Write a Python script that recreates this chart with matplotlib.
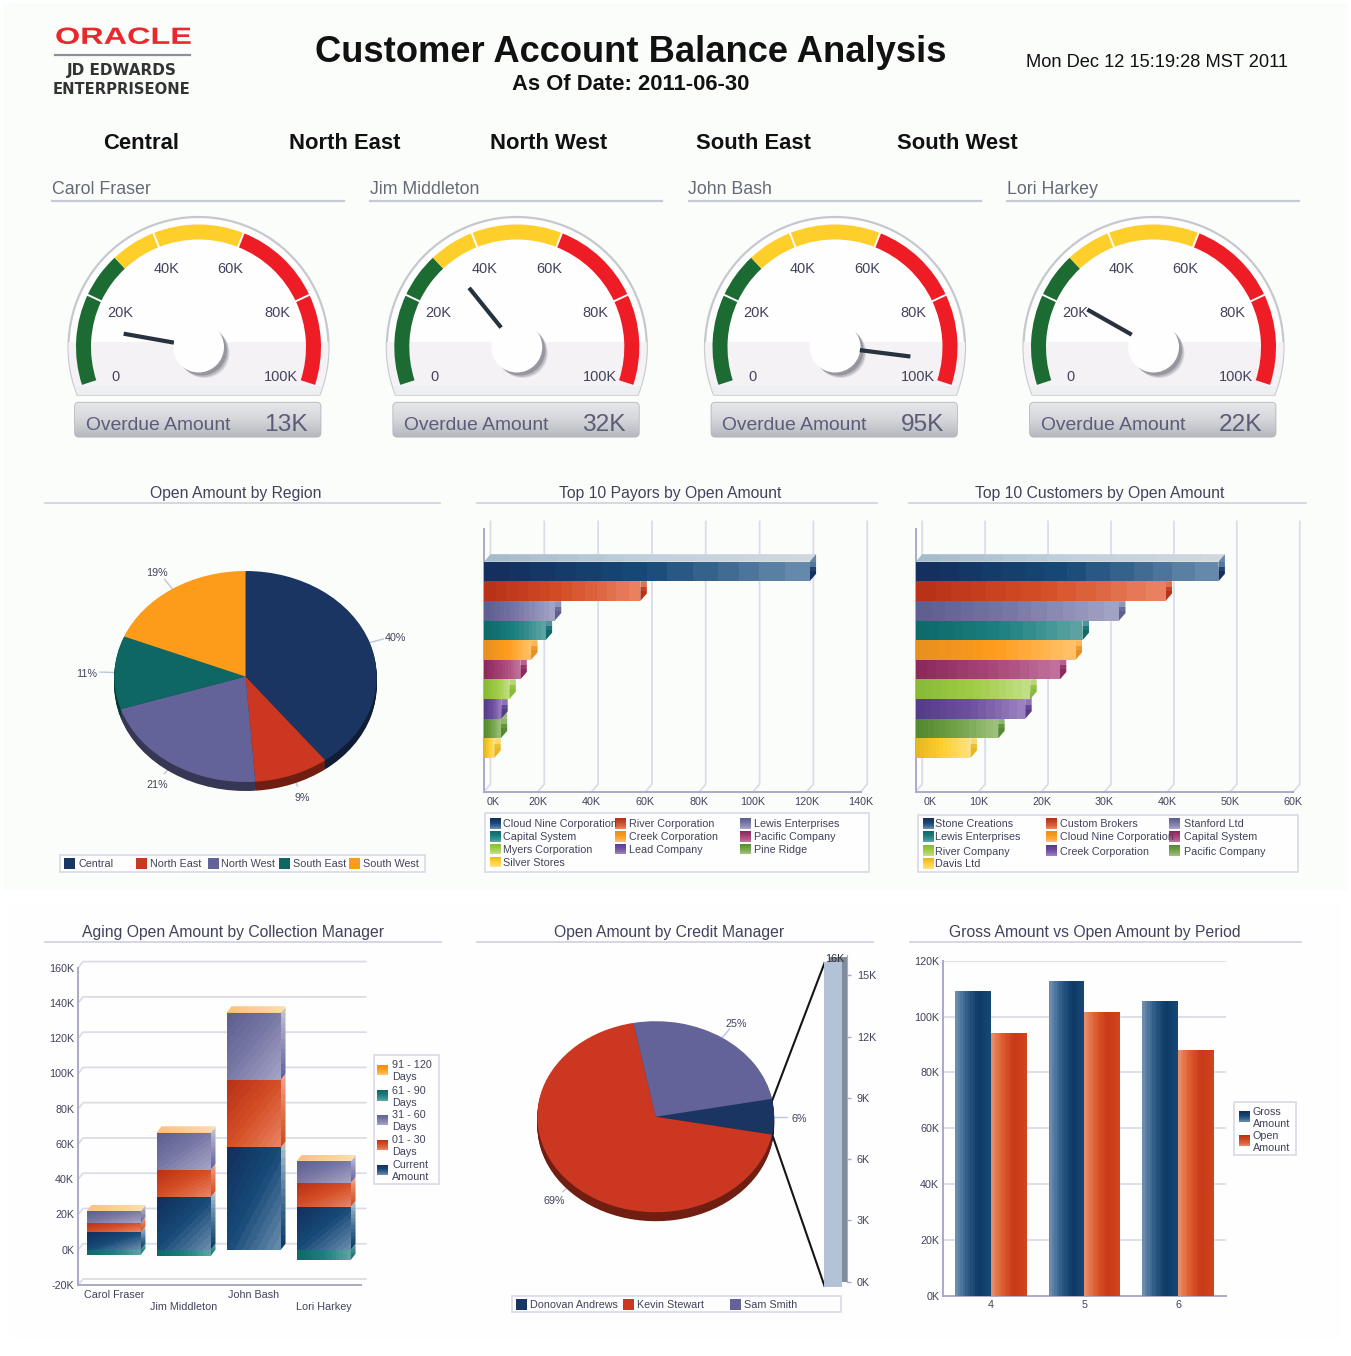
import numpy as np
import matplotlib
matplotlib.use('Agg')
import matplotlib.pyplot as plt
from matplotlib.colors import LinearSegmentedColormap
from matplotlib.patches import Polygon, Rectangle, Wedge, Circle, FancyBboxPatch
from matplotlib.patheffects import AbstractPathEffect
from matplotlib.transforms import Affine2D

# gauges (values in K)
managers = ['Carol Fraser', 'Jim Middleton', 'John Bash', 'Lori Harkey']
overdue = [13, 32, 95, 22]
gauge_ticks = [0, 20, 40, 60, 80, 100]
gauge_bands = [0, 20, 30, 40, 60, 80, 100]
region_heads = ['Central', 'North East', 'North West', 'South East', 'South West']

# open amount by region, percent
region_share = [39.6, 9.2, 21.2, 11.2, 18.8]

# top 10 lists, K
payors = ['Cloud Nine Corporation', 'River Corporation', 'Lewis Enterprises', 'Capital System',
          'Creek Corporation', 'Pacific Company', 'Myers Corporation', 'Lead Company',
          'Pine Ridge', 'Silver Stores']
payor_open = [121, 58.1, 26.3, 22.9, 17.5, 13.5, 9.4, 6.4, 6.2, 3.8]
payor_ticks = [0, 20, 40, 60, 80, 100, 120, 140]
customers = ['Stone Creations', 'Custom Brokers', 'Stanford Ltd', 'Lewis Enterprises',
             'Cloud Nine Corporation', 'Capital System', 'River Company', 'Creek Corporation',
             'Pacific Company', 'Davis Ltd']
customer_open = [48.1, 39.7, 32.3, 26.5, 25.4, 22.9, 18.2, 17.4, 13.1, 8.7]
customer_ticks = [0, 10, 20, 30, 40, 50, 60]

# aging by collection manager, K
aging_current = [9.8, 29.9, 58.0, 24.4]
aging_01_30 = [5.3, 15.5, 38.4, 13.6]
aging_31_60 = [6.6, 20.8, 37.8, 12.1]
aging_61_90 = [-2.8, -3.4, 0, -5.7]
aging_91_120 = [0.3, 0.4, 0.5, 0.3]
aging_ticks = [-20, 0, 20, 40, 60, 80, 100, 120, 140, 160]
aging_names = ['91 - 120\nDays', '61 - 90\nDays', '31 - 60\nDays', '01 - 30\nDays', 'Current\nAmount']

# credit manager
credit_names = ['Donovan Andrews', 'Kevin Stewart', 'Sam Smith']
credit_share = [6, 69, 25]
credit_column = 15.9
credit_ticks = [0, 3, 6, 9, 12, 15]

# gross vs open
periods = ['4', '5', '6']
gross_amount = [109.1, 112.7, 105.7]
open_amount = [94.2, 101.8, 88.0]
period_ticks = [0, 20, 40, 60, 80, 100, 120]

W, H = 1351, 1356
INK = '#42425c'
LINE = '#dcdce8'
AXIS = '#a9a9c9'
plt.rcParams['font.family'] = 'Liberation Sans'

pie_colors = ['#1b3562', '#cb3720', '#63639a', '#0e6763', '#fd9b1a']
credit_colors = ['#1b3562', '#cb3720', '#63639a']
stops = [
    ['#13305e', '#174a78', '#6589ab'],
    ['#b83218', '#d44e25', '#e98060'],
    ['#5f5f90', '#7a7aa8', '#a2a2c4'],
    ['#0f6a6a', '#1b8080', '#5ca2a2'],
    ['#e89020', '#ff9c1c', '#ffc068'],
    ['#8c2a5e', '#a84478', '#c0709a'],
    ['#88bb38', '#a0cc44', '#c2de84'],
    ['#583c8c', '#6e50a0', '#9a80c0'],
    ['#558a30', '#72a248', '#9cc07c'],
    ['#e8b820', '#ffd030', '#ffe080'],
]

fig = plt.figure(figsize=(W / 100, H / 100), dpi=100, facecolor='white')
page = fig.add_axes([0, 0, 1, 1], zorder=0)
page.set_xlim(0, W)
page.set_ylim(H, 0)
page.axis('off')
page.add_patch(Rectangle((3, 3), W - 6, 887, fc='#fbfdfb', ec='none', zorder=0))
page.add_patch(Rectangle((10, 902), W - 20, 438, fc='#fdfefd', ec='none', zorder=0))


def px_axes(l, t, r, b):
    ax = fig.add_axes([l / W, 1 - b / H, (r - l) / W, (b - t) / H], zorder=1)
    ax.patch.set_visible(False)
    return ax


def px(size):
    return size * 0.72


def label(x, y, s, size=10.8, color=INK, ha='left', **kw):
    return page.text(x, y + 0.1 * size, s, fontsize=px(size), color=color, ha=ha, va='center', **kw)


# polygon filled with a stepped gradient, like the banded fills of the original
def shade(ax, xs, ys, colors, kind='h', z=3, n=14):
    poly = Polygon(np.column_stack([xs, ys]), closed=True, fc='none', ec='none', zorder=z)
    ax.add_patch(poly)
    cm = LinearSegmentedColormap.from_list('s', colors, N=n)
    g = np.linspace(0, 1, 64)
    if kind == 'h':
        a = g[None, :]
    elif kind == 'v':
        a = g[:, None]
    else:
        a = (g[None, :] + (1 - g)[:, None]) / 2
    im = ax.imshow(a, extent=(min(xs), max(xs), min(ys), max(ys)), origin='lower', aspect='auto',
                   cmap=cm, vmin=0, vmax=1, interpolation='nearest', zorder=z)
    im.set_clip_path(poly)


def section(x0, x1, y, title, cx=None):
    label((x0 + x1) / 2 if cx is None else cx, y, title, size=15.7, ha='center')
    page.plot([x0, x1], [y + 10.5, y + 10.5], color='#d3d3e2', lw=1.3)


def legend_box(l, t, r, b):
    page.add_patch(Rectangle((l, t), r - l, b - t, fc='#fdfefd', ec='#dcdcea', lw=1.3, zorder=1))


def legend_item(x, y, tx, name, colors):
    if isinstance(colors, str):
        page.add_patch(Rectangle((x, y - 5.5), 11, 11, fc=colors, zorder=2))
    else:
        shade(page, [x, x + 11, x + 11, x], [y - 5.5, y - 5.5, y + 5.5, y + 5.5], colors, 'v', z=2)
    label(tx, y, name, linespacing=1.2)


def ink_ticks(ax):
    ax.tick_params(length=0, labelsize=px(10.8), labelcolor=INK)
    for s in ax.spines.values():
        s.set_visible(False)
    for s in ['left', 'bottom']:
        ax.spines[s].set_visible(True)
        ax.spines[s].set_color(AXIS)
        ax.spines[s].set_linewidth(1.4)


# ---- header
label(315, 48.5, 'Customer Account Balance Analysis', size=36.4, color='#111111', weight='bold')
label(630.5, 82, 'As Of Date: 2011-06-30', size=22, color='#111111', ha='center', weight='bold')
label(1026, 60.5, 'Mon Dec 12 15:19:28 MST 2011', size=18.3, color='#111111')


class StretchX(AbstractPathEffect):
    def __init__(self, sx, x0):
        super().__init__()
        self.sx = sx
        self.x0 = x0

    def draw_path(self, renderer, gc, tpath, affine, rgbFace=None):
        affine = affine + Affine2D().translate(-self.x0, 0).scale(self.sx, 1).translate(self.x0, 0)
        renderer.draw_path(gc, tpath, affine, rgbFace)


logo = label(55, 35, 'ORACLE', size=23.5, color='#e8282c', weight='bold')
logo.set_path_effects([StretchX(1.38, 55)])
page.plot([55, 190], [55, 55], color='#8d909c', lw=1.6)
label(122, 69, 'JD EDWARDS', size=15.2, color='#333333', ha='center', weight='bold', family='DejaVu Sans')
label(122, 88, 'ENTERPRISEONE', size=14.7, color='#333333', ha='center', weight='bold', family='DejaVu Sans')

for name, cx in zip(region_heads, [141, 345, 549, 753, 957]):
    label(cx, 141, name, size=22, color='#111111', ha='center', weight='bold')


# ---- gauges
def gauge_angle(v):
    return 198 - 2.16 * v


def gauge(cx, name, value):
    top = 347
    label(cx - 146.5, 187.5, name, size=17.8, color='#666a78')
    page.plot([cx - 146.5, cx + 145.5], [201, 201], color='#c6c9d6', lw=1.6)
    ax = px_axes(cx - 135, top - 135, cx + 135, top + 95)
    ax.set_xlim(-135, 135)
    ax.set_ylim(-95, 135)
    ax.axis('off')
    th = np.radians(np.linspace(-21.5, 201.5, 120))
    bezel = Polygon(np.column_stack([130 * np.cos(th), 130 * np.sin(th)]), closed=True,
                    fc='#fefefe', ec='#c6c8ce', lw=1.6, zorder=1)
    ax.add_patch(bezel)
    low = Rectangle((-135, -49), 270, 54, fc='#f4f2f4', ec='none', zorder=1.1)
    ax.add_patch(low)
    low.set_clip_path(bezel)
    low2 = Rectangle((-135, -49), 270, 10, fc='#edf0f1', ec='none', zorder=1.2)
    ax.add_patch(low2)
    low2.set_clip_path(bezel)
    band_colors = ['#1c6b33', '#1c6b33', '#fece2a', '#fece2a', '#ee1c25', '#ee1c25']
    for v0, v1, c in zip(gauge_bands[:-1], gauge_bands[1:], band_colors):
        ax.add_patch(Wedge((0, 0), 122.5, gauge_angle(v1), gauge_angle(v0), width=15, fc=c, ec='none', zorder=2))
    for v in gauge_ticks[1:-1]:
        a = np.radians(gauge_angle(v))
        ax.plot([106 * np.cos(a), 124 * np.cos(a)], [106 * np.sin(a), 124 * np.sin(a)],
                color='#fefefe', lw=1.4, zorder=3, solid_capstyle='butt')
    for v in gauge_ticks:
        a = np.radians(gauge_angle(v))
        ax.text(87 * np.cos(a), 87 * np.sin(a) - 3, f'{v}K' if v else '0', fontsize=px(14.5), color=INK,
                ha='center', va='center', zorder=4)
    for off, r, c in [(6, 25, '#dcdce0'), (5, 25, '#bcbcc2'), (3.5, 25, '#96969e')]:
        ax.add_patch(Circle((off, -off), r, fc=c, ec='none', zorder=5))
    ax.add_patch(Circle((0, 0), 25.5, fc='#fefefe', ec='none', zorder=6))
    a = np.radians(gauge_angle(value))
    ax.plot([25 * np.cos(a), 76 * np.cos(a)], [25 * np.sin(a), 76 * np.sin(a)],
            color='#28313e', lw=3, zorder=7, solid_capstyle='butt')
    box = FancyBboxPatch((-123.5, -89.7), 245.5, 34, boxstyle='round,pad=0,rounding_size=4',
                         fc='#cfd1d5', ec='#b2b5bb', lw=1.2, zorder=8)
    ax.add_patch(box)
    im = ax.imshow(np.linspace(0, 1, 32)[:, None], extent=(-124, 123, -90, -55), origin='lower', aspect='auto',
                   cmap=LinearSegmentedColormap.from_list('b', ['#b6b9bf', '#d4d6da', '#e6e8ea']),
                   interpolation='bilinear', zorder=8.1)
    im.set_clip_path(box)
    ax.text(-112.5, -79, 'Overdue Amount', fontsize=px(19.3), color='#5c5c7a', va='center', zorder=9)
    ax.text(109, -78, f'{value}K', fontsize=px(24.5), color='#5c5c7a', va='center', ha='right', zorder=9)


for name, value, cx in zip(managers, overdue, [198.5, 516.8, 835, 1153.5]):
    gauge(cx, name, value)


# ---- pies
def pie3d(cx, cy, rx, ry, depth, values, colors, start, factor=1.21):
    ax = px_axes(cx - 1.5 * rx, cy - 1.5 * ry, cx + 1.5 * rx, cy + 1.5 * ry)
    dark = [tuple(c * 0.55 for c in matplotlib.colors.to_rgb(col)) for col in colors]
    for d in range(depth, 0, -1):
        ax.pie(values, colors=dark, startangle=start, counterclock=False, center=(0, -d / ry),
               wedgeprops=dict(lw=0))
    wedges = ax.pie(values, colors=colors, startangle=start, counterclock=False, wedgeprops=dict(lw=0))[0]
    ax.set_aspect('auto')
    ax.set_xlim(-1.5, 1.5)
    ax.set_ylim(-1.5, 1.5)
    for w, v in zip(wedges, values):
        a = np.radians((w.theta1 + w.theta2) / 2)
        ca, sa = np.cos(a), np.sin(a)
        ax.plot([ca, 1.11 * ca], [sa, 1.11 * sa], color='#b9c8dc', lw=1, zorder=0)
        ax.text(factor * ca, factor * sa - 2.5 / ry, f'{v:.0f}%', fontsize=px(10.8), color=INK, ha='center', va='center')
    return ax


section(45, 440, 492, 'Open Amount by Region', cx=236)
pie3d(245.5, 676.5, 131.2, 105.5, 9, region_share, pie_colors, 90)
legend_box(59.5, 855, 425, 871.7)
for name, c, x, tx in zip(region_heads, pie_colors, [64, 136, 207.5, 279, 349], [78.5, 150, 220.7, 292.7, 363.3]):
    legend_item(x, 863.3, tx, name, c)

section(477, 873, 931, 'Open Amount by Credit Manager', cx=669)
pie3d(655.7, 1116.7, 118.4, 95.5, 9, credit_share, credit_colors, 10.8)
page.plot([771.7, 824.5], [1101.7, 963], color='#151515', lw=1.5)
page.plot([773, 824.5], [1137, 1286], color='#151515', lw=1.5)
col = px_axes(829, 955, 847, 1281.5)
col.set_xlim(0, 1)
col.set_ylim(0, 16)
col.bar(0.5, credit_column, width=1, color='#7f8c9d', clip_on=False, zorder=2)
col.bar(0.5, credit_column, width=1, color='#b3c2d6', clip_on=False, zorder=3,
        transform=col.transData + Affine2D().translate(-5, -5))
col.set_xticks([])
col.yaxis.tick_right()
col.set_yticks(credit_ticks)
col.set_yticklabels([f'{v}K' for v in credit_ticks])
col.tick_params(axis='y', length=3, width=1, color=AXIS, labelsize=px(10.8), labelcolor=INK, pad=4)
for s in col.spines.values():
    s.set_visible(False)
col.spines['right'].set_visible(True)
col.spines['right'].set_color(AXIS)
col.text(0.33, 15.8, '16K', fontsize=px(10.8), ha='center', va='center', color='#333344', zorder=5)
legend_box(511.7, 1296, 840.7, 1311.7)
for name, c, x, tx in zip(credit_names, credit_colors, [516, 622.7, 730], [530, 637.3, 744]):
    legend_item(x, 1304, tx, name, c)


# ---- horizontal 3d bars
def hbars(l, r, values, ticks, first_tick_pad):
    t, b = 529, 791.7
    row = 19.63
    y_top = -0.5 - (561.7 - t) / row
    y_bot = -0.5 + (b - 561.7) / row
    ax = px_axes(l, t, r, b)
    ax.set_xlim(ticks[0], ticks[-1])
    ax.set_ylim(y_bot, y_top)
    dx = 6.5 * (ticks[-1] - ticks[0]) / (r - l)
    dy = 7.5 / row
    for v in ticks:
        ax.plot([v, v + dx, v + dx], [y_bot, y_bot - dy, y_top - dy], color=LINE, lw=1.3, clip_on=False, zorder=1)
    # lower bars first, each upper bar covers the top face of the next one
    for i in range(len(values) - 1, -1, -1):
        v = values[i]
        z = 3 + (len(values) - i)
        c = stops[i]
        bar = ax.barh(i, v, height=1, color=c[1], zorder=z)[0]
        y0, y1 = bar.get_y(), bar.get_y() + bar.get_height()
        shade(ax, [0, v, v + dx, dx], [y0, y0, y0 - dy, y0 - dy], ['#a6bbcb', '#c0d0dc', '#d0d8de'], 'h', z=z)
        shade(ax, [0, v, v, 0], [y0, y0, y1, y1], c, 'h', z=z + 0.1)
        shade(ax, [v, v + dx, v + dx, v], [y0, y0 - dy, y1 - dy, y1], [c[2], c[2], c[0], c[0]], 'v', z=z + 0.1, n=6)
    ink_ticks(ax)
    ax.tick_params(axis='x', pad=4)
    ax.set_yticks([])
    ax.set_xticks(ticks)
    labs = ax.set_xticklabels([f'{v}K' for v in ticks])
    # the 0K label sits right of its tick in the original
    labs[0].set_ha('left')
    labs[0].set_transform(labs[0].get_transform() + Affine2D().translate(first_tick_pad, 0))
    return ax


section(477, 877, 492, 'Top 10 Payors by Open Amount', cx=670)
hbars(484, 860.7, payor_open, payor_ticks, 3)
legend_box(485, 813.3, 869, 871.7)
for i, name in enumerate(payors):
    x = [490, 615, 740][i % 3]
    tx = [502.7, 629, 754][i % 3]
    legend_item(x, [823.3, 836.3, 849, 862][i // 3], tx, name, stops[i])

section(909, 1306, 492, 'Top 10 Customers by Open Amount', cx=1100)
hbars(915.7, 1293.3, customer_open, customer_ticks, 8)
legend_box(917.7, 815, 1297.7, 871.7)
for i, name in enumerate(customers):
    x = [922.7, 1045.7, 1168.7][i % 3]
    tx = [935, 1060, 1184][i % 3]
    legend_item(x, [823.3, 836.3, 850.7, 863.3][i // 3], tx, name, stops[i])

# ---- aging stack
section(45, 441, 931, 'Aging Open Amount by Collection Manager', cx=233)
l, t, r, b = 78.3, 967.6, 361, 1285
ax = px_axes(l, t, r, b)
ax.set_xlim(-0.507, 3.53)
ax.set_ylim(aging_ticks[0], aging_ticks[-1])
dx = 4.7 * 4.037 / (r - l)
dy = 6 * 180 / (b - t)
for v in aging_ticks:
    ax.plot([-0.507, -0.507 + dx, 3.53 + dx], [v, v + dy, v + dy], color=LINE, lw=1.3, clip_on=False, zorder=1)
blue, red, purple, teal, orange = stops[0], stops[1], stops[2], stops[3], stops[4]
for i in range(len(managers)):
    base = 0
    series = [(aging_current, blue, ['#0e3a66', '#4a7496', '#a9bfcf']),
              (aging_01_30, red, ['#cc4a20', '#e0754e', '#eda68c']),
              (aging_31_60, purple, ['#6060a0', '#9090ba', '#c0c0d8']),
              (aging_91_120, orange, ['#f8a848', '#fdc887', '#fdd59a'])]
    w = 0.77
    x0, x1 = i - w / 2, i + w / 2
    neg = aging_61_90[i]
    if neg:
        ax.bar(i, neg, width=w, color=teal[1], zorder=3)
        shade(ax, [x0, x1, x1, x0], [neg, neg, 0, 0], teal, 'h', z=3.1)
        shade(ax, [x1, x1 + dx, x1 + dx, x1], [neg, neg + dy, dy, 0], ['#0f6a6a', '#5ca2a2'], 'v', z=3.1)
    for vals, c, side in series:
        v = vals[i]
        ax.bar(i, v, bottom=base, width=w, color=c[1], zorder=3)
        shade(ax, [x0, x1, x1, x0], [base, base, base + v, base + v], c if vals is not aging_91_120 else side, 'd', z=3.2)
        shade(ax, [x1, x1 + dx, x1 + dx, x1], [base, base + dy, base + v + dy, base + v], side, 'v', z=3.1)
        base += v
    shade(ax, [x0, x1, x1 + dx, x0 + dx], [base, base, base + dy, base + dy], ['#fbc37a', '#fddcae'], 'h', z=3.3)
ink_ticks(ax)
ax.set_yticks(aging_ticks)
ax.set_yticklabels([f'{v}K' for v in aging_ticks])
ax.set_xticks(range(len(managers)))
ax.set_xticklabels(managers)
ax.tick_params(axis='y', pad=3)
for i, tick in enumerate(ax.xaxis.get_major_ticks()):
    tick.set_pad(3.5 if i % 2 == 0 else 12)
legend_box(374.3, 1055, 438.7, 1184.3)
for name, c, y in zip(aging_names, [orange, teal, purple, red, blue], [1070, 1095.7, 1120, 1145, 1170]):
    legend_item(376.7, y, 392.3, name, c)

# ---- gross vs open
section(910, 1301, 931, 'Gross Amount vs Open Amount by Period', cx=1095)
ax = px_axes(943.3, 960.7, 1225.7, 1296)
ax.set_xlim(-0.506, 2.508)
ax.set_ylim(period_ticks[0], period_ticks[-1])
for v in period_ticks[1:]:
    ax.axhline(v, color=LINE, lw=1.3, zorder=1)
navy_steps = ['#6b8cac', '#2e5c88', '#0f3a68', '#164674']
rust_steps = ['#ea8b65', '#da5a2c', '#c93a18', '#d0431d']
w = 0.382
for i in range(len(periods)):
    for v, x, c in [(gross_amount[i], i - w, navy_steps), (open_amount[i], i, rust_steps)]:
        bar = ax.bar(x, v, width=w, align='edge', color=c[2], zorder=3)[0]
        shade(ax, [x, x + w, x + w, x], [0, 0, v, v], c, 'h', z=3.1)
ink_ticks(ax)
ax.set_yticks(period_ticks)
ax.set_yticklabels([f'{v}K' for v in period_ticks])
ax.set_xticks(range(len(periods)))
ax.set_xticklabels(periods)
ax.tick_params(axis='both', pad=3)
legend_box(1234.3, 1101.7, 1295.7, 1155)
legend_item(1238.7, 1116.7, 1252.7, 'Gross\nAmount', blue)
legend_item(1238.7, 1140.7, 1252.7, 'Open\nAmount', red)

fig.savefig('out.png', dpi=100, facecolor=fig.get_facecolor())
